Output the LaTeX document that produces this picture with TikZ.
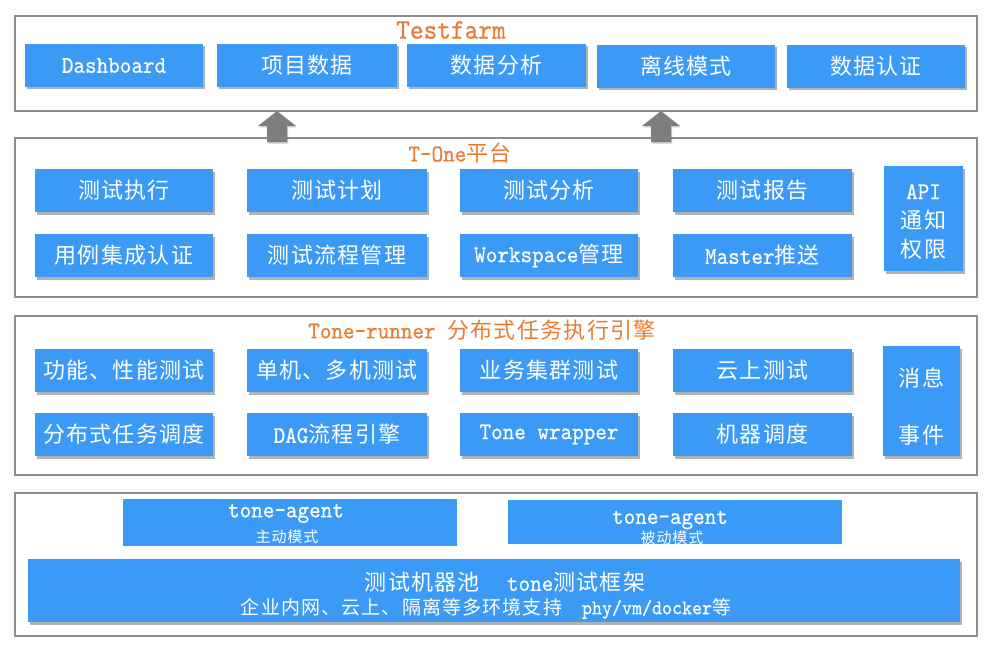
\documentclass[tikz,border=0pt]{standalone}
\usepackage{fontspec}
\setmonofont[FakeBold=0.5, Scale=1.09, FakeStretch=0.92]{lmmono10-regular.otf}
\newfontfamily\cjk[LetterSpace=6]{Noto Sans CJK SC}
\usetikzlibrary{shadows,calc}
\definecolor{boxblue}{RGB}{58,154,246}
\definecolor{ttlorange}{RGB}{232,124,52}
\definecolor{panelgray}{RGB}{140,140,140}
\definecolor{arrowgray}{RGB}{125,125,125}
\newcommand\zh[1]{{\cjk #1}}
\newcommand\fs[2]{\fontsize{#1}{#2}\selectfont}
\tikzset{
  panel/.style={draw=panelgray, line width=1.2pt, fill=white, inner sep=0pt, outer sep=0pt},
  bshadow/.style={drop shadow={shadow xshift=1.5pt, shadow yshift=-2.5pt, fill=black, opacity=0.3}},
  bluebox/.style={fill=boxblue, text=white, inner sep=0pt, outer sep=0pt,
    minimum height=43pt, minimum width=178pt, font=\ttfamily\fs{22}{26}, align=center, bshadow},
  flatbox/.style={fill=boxblue, inner sep=0pt, outer sep=0pt},
  ttl/.style={text=ttlorange, inner sep=0pt, font=\ttfamily\fs{22}{26}},
  wtxt/.style={text=white, inner sep=0pt, align=center},
  blockarrow/.style={fill=arrowgray, drop shadow={shadow xshift=1pt, shadow yshift=-1.5pt, fill=black, opacity=0.2}}
}
\begin{document}
\begin{tikzpicture}[x=1pt,y=-1pt]
\useasboundingbox (0,0) rectangle (987,650);
\fill[white] (0,0) rectangle (987,650);

% panels
\node[panel, minimum width=962pt, minimum height=95pt]  (p1) at (496,63.5) {};
\node[panel, minimum width=962pt, minimum height=159pt] (p2) at (496,217.5) {};
\node[panel, minimum width=962pt, minimum height=159pt] (p3) at (496,395.5) {};
\node[panel, minimum width=962pt, minimum height=143pt] (p4) at (496,564.5) {};

% titles
\node[ttl, font=\ttfamily\fs{26}{30}] (t1) at (451,30) {Testfarm};
\node[ttl] (t2) at (460,153) {T-One\zh{平台}};
\node[ttl] (t3) at (482,330) {Tone-runner \zh{分布式任务执行引擎}};

% Testfarm row
\node[bluebox] (f1) at (114,65.5) {Dashboard};
\node[bluebox, minimum width=180pt] (f2) at (307,65.5) {\zh{项目数据}};
\node[bluebox, minimum width=179pt] (f3) at (496.5,65.5) {\zh{数据分析}};
\node[bluebox] (f4) at (686,66.5) {\zh{离线模式}};
\node[bluebox] (f5) at (876,66.5) {\zh{数据认证}};

% T-One rows
\node[bluebox] (o1) at (124,190.5) {\zh{测试执行}};
\node[bluebox, minimum width=180pt] (o2) at (337,190.5) {\zh{测试计划}};
\node[bluebox] (o3) at (549,190.5) {\zh{测试分析}};
\node[bluebox, minimum width=179pt] (o4) at (762.5,190.5) {\zh{测试报告}};
\node[bluebox] (o5) at (124,255.5) {\zh{用例集成认证}};
\node[bluebox, minimum width=180pt] (o6) at (337,255.5) {\zh{测试流程管理}};
\node[bluebox] (o7) at (549,255.5) {Workspace\zh{管理}};
\node[bluebox, minimum width=179pt] (o8) at (762.5,255.5) {Master\zh{推送}};
\node[bluebox, minimum width=79pt, minimum height=105pt] (o9) at (923.5,218.5) {};
\node[wtxt, font=\ttfamily\fs{22}{29}] (o9t) at ($(o9)+(0,3)$) {API\\\zh{通知}\\\zh{权限}};

% Tone-runner rows
\node[bluebox] (r1) at (124,370.5) {\zh{功能、性能测试}};
\node[bluebox, minimum width=180pt] (r2) at (337,370.5) {\zh{单机、多机测试}};
\node[bluebox] (r3) at (549,370.5) {\zh{业务集群测试}};
\node[bluebox, minimum width=179pt] (r4) at (762.5,370.5) {\zh{云上测试}};
\node[bluebox] (r5) at (124,434.5) {\zh{分布式任务调度}};
\node[bluebox, minimum width=180pt] (r6) at (337,434.5) {DAG\zh{流程引擎}};
\node[bluebox] (r7) at (549,434.5) {Tone wrapper};
\node[bluebox, minimum width=179pt] (r8) at (762.5,434.5) {\zh{机器调度}};
\node[bluebox, minimum width=77pt, minimum height=110pt] (r9) at (921.5,401) {};
\node[wtxt, font=\fs{22}{57}] (r9t) at ($(r9)+(0,6)$) {\zh{消息}\\\zh{事件}};

% bottom layer
\node[flatbox, minimum width=334pt, minimum height=47pt] (ag1) at (290,522.5) {};
\node[wtxt, font=\ttfamily\fs{22}{24}] (ag1a) at ($(ag1)+(-4,-9)$) {tone-agent};
\node[wtxt, font=\fs{15}{16}] (ag1b) at ($(ag1)+(-3,14)$) {\zh{主动模式}};
\node[flatbox, minimum width=334pt, minimum height=44pt] (ag2) at (675,522) {};
\node[wtxt, font=\ttfamily\fs{22}{24}] (ag2a) at ($(ag2)+(-5,-2)$) {tone-agent};
\node[wtxt, font=\fs{15}{16}] (ag2b) at ($(ag2)+(-3,16)$) {\zh{被动模式}};

\node[bluebox, minimum width=932pt, minimum height=63pt] (pool) at (494,590.5) {};
\node[wtxt, font=\ttfamily\fs{22}{26}] (pl1) at ($(pool)+(11,-8)$) {\zh{测试机器池}\hspace{27pt}tone\zh{测试框架}};
\node[wtxt, font=\ttfamily\fs{19}{22}] (pl2) at ($(pool)+(-8,18)$) {\zh{企业内网、云上、隔离等多环境支持}\hspace{20pt}phy/vm/docker\zh{等}};

% block arrows from T-One panel up to Testfarm panel
\coordinate (a1) at (277,142);
\coordinate (a2) at (661,142);
\foreach \a in {a1,a2}{
  \fill[blockarrow] ($(\a)+(-10,0)$) -- ($(\a)+(-10,-16)$) -- ($(\a)+(-19,-16)$) -- (\a|-p1.south)
    -- ($(\a)+(19,-16)$) -- ($(\a)+(10,-16)$) -- ($(\a)+(10,0)$) -- cycle;
}
\end{tikzpicture}
\end{document}
